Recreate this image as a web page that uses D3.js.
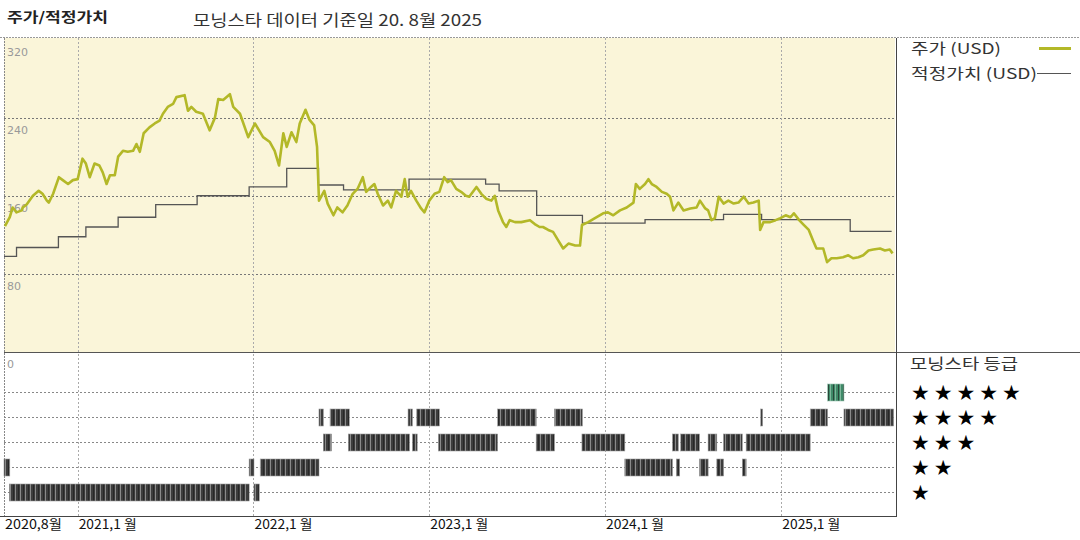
<!DOCTYPE html>
<html><head><meta charset="utf-8">
<script src="https://cdn.jsdelivr.net/npm/d3@7"></script>
<style>
html,body{margin:0;padding:0;background:#fff;}
svg{display:block;font-family:"Noto Sans CJK KR","DejaVu Sans",sans-serif;}
</style></head>
<body>
<svg id="chart" width="1080" height="540"></svg>
<script>
// ---------- DATA ----------
const titleLeft = "주가/적정가치";
const titleRight = "모닝스타 데이터 기준일 20. 8월 2025";
const legendPrice = "주가 (USD)";
const legendFair = "적정가치 (USD)";
const legendRating = "모닝스타 등급";
const yTicks = [0, 80, 160, 240, 320];
const xTickDates = ["2020-08-01","2021-01-01","2022-01-01","2023-01-01","2024-01-01","2025-01-01"];
const xTickLabels = ["2020,8월","2021,1 월","2022,1 월","2023,1 월","2024,1 월","2025,1 월"];

const priceDates = ["2020-08-03","2020-08-13","2020-08-19","2020-08-27","2020-09-07","2020-09-09","2020-09-17","2020-09-30","2020-10-12","2020-10-20","2020-10-29","2020-11-02","2020-11-11","2020-11-23","2020-12-01","2020-12-12","2020-12-22","2021-01-01","2021-01-11","2021-01-18","2021-01-26","2021-02-05","2021-02-15","2021-02-22","2021-03-02","2021-03-09","2021-03-19","2021-03-26","2021-04-05","2021-04-15","2021-04-26","2021-05-03","2021-05-10","2021-05-18","2021-05-30","2021-06-10","2021-06-20","2021-06-27","2021-07-07","2021-07-18","2021-07-25","2021-08-11","2021-08-18","2021-08-25","2021-09-04","2021-09-18","2021-10-02","2021-10-13","2021-10-20","2021-10-30","2021-11-13","2021-11-20","2021-12-04","2021-12-21","2022-01-04","2022-01-21","2022-02-04","2022-02-14","2022-02-23","2022-03-04","2022-03-11","2022-03-21","2022-03-31","2022-04-07","2022-04-19","2022-04-27","2022-05-07","2022-05-13","2022-05-17","2022-05-28","2022-06-04","2022-06-16","2022-06-24","2022-07-05","2022-07-15","2022-07-26","2022-08-05","2022-08-16","2022-08-23","2022-09-02","2022-09-09","2022-09-16","2022-09-27","2022-10-07","2022-10-14","2022-10-24","2022-11-04","2022-11-11","2022-11-17","2022-11-24","2022-12-05","2022-12-15","2022-12-22","2023-01-01","2023-01-12","2023-01-22","2023-02-01","2023-02-08","2023-02-15","2023-02-26","2023-03-08","2023-03-18","2023-03-25","2023-04-09","2023-04-19","2023-04-29","2023-05-10","2023-05-17","2023-05-24","2023-06-03","2023-06-10","2023-06-17","2023-06-28","2023-07-11","2023-07-29","2023-08-08","2023-08-18","2023-08-25","2023-09-05","2023-09-15","2023-09-26","2023-10-06","2023-10-17","2023-10-31","2023-11-10","2023-11-14","2023-11-27","2023-12-11","2023-12-28","2024-01-07","2024-01-18","2024-02-01","2024-02-15","2024-02-29","2024-03-05","2024-03-13","2024-03-24","2024-03-31","2024-04-07","2024-04-17","2024-04-28","2024-05-08","2024-05-15","2024-05-22","2024-06-01","2024-06-12","2024-06-26","2024-07-09","2024-07-16","2024-07-27","2024-08-02","2024-08-09","2024-08-16","2024-08-24","2024-09-03","2024-09-13","2024-09-24","2024-10-04","2024-10-15","2024-10-25","2024-11-04","2024-11-15","2024-11-18","2024-11-25","2024-12-09","2024-12-20","2024-12-30","2025-01-10","2025-01-20","2025-01-27","2025-02-07","2025-02-17","2025-02-27","2025-03-08","2025-03-15","2025-03-29","2025-04-06","2025-04-15","2025-04-26","2025-05-09","2025-05-20","2025-05-30","2025-06-10","2025-06-20","2025-07-01","2025-07-11","2025-07-25","2025-08-04","2025-08-14","2025-08-20"];
const priceValues = [129,138,148,143,145,148,151,160,165,162,155,153,162,179,176,172,176,177,198,193,179,193,191,184,172,181,181,200,206,205,206,213,205,224,230,234,237,244,251,254,261,263,247,251,246,244,227,240,259,258,264,251,244,220,234,220,215,206,191,224,210,225,215,234,248,238,232,210,155,165,152,140,148,143,150,162,167,179,164,169,172,162,150,155,148,165,159,177,159,165,155,147,143,155,162,164,179,174,176,167,164,160,159,169,162,157,155,160,145,133,128,135,133,133,135,131,128,128,125,123,114,106,111,109,109,130,133,137,142,143,140,145,148,153,172,167,172,177,172,169,164,162,159,145,153,145,147,148,155,147,145,135,137,159,152,155,152,153,159,152,153,155,125,133,133,135,137,140,138,142,135,130,125,114,106,106,92,96,96,97,99,96,97,99,104,105,106,104,105,101];

const fairDates = ["2020-08-01","2020-08-27","2020-11-22","2021-01-18","2021-03-26","2021-06-12","2021-09-06","2021-12-23","2022-03-11","2022-05-16","2022-07-07","2022-11-20","2023-04-28","2023-05-26","2023-08-12","2023-11-15","2024-03-24","2024-09-03","2024-11-21","2025-05-24","2025-08-18"];
const fairValues = [98,107,118,128,138,151,160,169,188,171,166,177,172,165,140,132,135.5,141,135.5,123.5,123.5];

// rating periods: [start, end]
const rating1 = [["2020-08-12","2021-12-23"],["2022-01-02","2022-01-13"]];
const rating2 = [["2020-08-01","2020-08-13"],["2021-12-23","2022-01-02"],["2022-01-15","2022-05-17"],["2024-02-11","2024-05-20"],["2024-05-28","2024-06-04"],["2024-07-15","2024-08-02"],["2024-08-20","2024-09-03"],["2024-10-12","2024-10-20"]];
const rating3 = [["2022-05-26","2022-06-12"],["2022-07-17","2022-11-21"],["2022-11-27","2022-12-07"],["2023-01-20","2023-05-23"],["2023-08-11","2023-09-18"],["2023-11-14","2024-02-11"],["2024-05-20","2024-06-01"],["2024-06-06","2024-07-15"],["2024-08-02","2024-08-20"],["2024-09-03","2024-10-12"],["2024-10-20","2025-03-02"]];
const rating4 = [["2022-05-17","2022-05-26"],["2022-06-09","2022-07-19"],["2022-11-18","2022-11-27"],["2022-12-06","2023-01-22"],["2023-05-23","2023-08-11"],["2023-09-18","2023-11-15"],["2024-11-19","2024-11-23"],["2025-03-02","2025-04-07"],["2025-05-11","2025-08-22"]];
const rating5 = [["2025-04-07","2025-05-11"]];

// ---------- DRAW ----------
const parse = d3.timeParse("%Y-%m-%d");
const svg = d3.select("#chart");
const L = 4, R = 896, PT = 38, PB = 352, AB = 516;

const x = d3.scaleTime().domain([parse("2020-08-01"), parse("2025-08-25")]).range([L, 895]);
const y = d3.scaleLinear().domain([0, 320]).range([PB, PT + 1.5]);
const ry = d3.scaleLinear().domain([1, 5]).range([492, 392]);

// pattern for rating bars
const defs = svg.append("defs");
function stripe(id, base, line) {
  const p = defs.append("pattern").attr("id", id).attr("patternUnits", "userSpaceOnUse")
    .attr("width", 5).attr("height", 20);
  p.append("rect").attr("width", 5).attr("height", 20).attr("fill", base);
  p.append("rect").attr("x", 0).attr("width", 1).attr("height", 20).attr("fill", line);
  p.append("rect").attr("x", 3).attr("width", 0.6).attr("height", 20).attr("fill", "#1a1a1a");
}
stripe("stDark", "#3d3d3d", "#8a8a8a");
stripe("stGreen", "#3f8a68", "#7fb79c");

function fitText(sel, w) { return sel.attr("textLength", w).attr("lengthAdjust", "spacingAndGlyphs"); }

// header
fitText(svg.append("text").attr("x", 7).attr("y", 22).attr("font-size", 13.5).attr("font-weight", "bold")
  .attr("fill", "#222").text(titleLeft), 101);
fitText(svg.append("text").attr("x", 193).attr("y", 26).attr("font-size", 16)
  .attr("fill", "#333").text(titleRight), 289);
svg.append("line").attr("x1", 0).attr("x2", 1080).attr("y1", 37.5).attr("y2", 37.5)
  .attr("stroke", "#999").attr("stroke-dasharray", "2,1");

// price panel background
svg.append("rect").attr("x", L).attr("y", PT).attr("width", 891).attr("height", PB - PT)
  .attr("fill", "#faf5d9");

const grid = svg.append("g").attr("stroke", "#777").attr("stroke-width", 1)
  .attr("stroke-dasharray", "2,2").attr("fill", "none");
// horizontal price gridlines
grid.selectAll("line.h").data(yTicks.filter(v => v > 0 && v < 320)).join("line")
  .attr("x1", L).attr("x2", 895).attr("y1", d => Math.round(y(d)) + 0.5).attr("y2", d => Math.round(y(d)) + 0.5);
// rating gridlines
grid.selectAll("line.r").data([1,2,3,4,5]).join("line").attr("class","r")
  .attr("x1", L).attr("x2", 895).attr("y1", d => Math.round(ry(d)) + 0.5).attr("y2", d => Math.round(ry(d)) + 0.5)
  .attr("stroke", "#888");
// vertical gridlines
grid.selectAll("line.v").data(xTickDates.slice(1)).join("line").attr("class","v")
  .attr("x1", d => Math.round(x(parse(d))) + 0.5).attr("x2", d => Math.round(x(parse(d))) + 0.5)
  .attr("y1", PT).attr("y2", AB).attr("stroke", "#aaa");
// left border
svg.append("line").attr("x1", L + 0.5).attr("x2", L + 0.5).attr("y1", PT).attr("y2", AB)
  .attr("stroke", "#888").attr("stroke-dasharray", "2,1");

// y tick labels
svg.append("g").selectAll("text").data(yTicks).join("text")
  .attr("x", 7).attr("y", d => y(d) + 16).attr("font-size", 11).attr("fill", "#999")
  .attr("font-family", "DejaVu Sans, sans-serif").text(d => d);

// fair value step line
const fair = fairDates.map((d, i) => ({ t: parse(d), v: fairValues[i] }));
svg.append("path").datum(fair)
  .attr("d", d3.line().x(d => x(d.t)).y(d => y(d.v)).curve(d3.curveStepAfter))
  .attr("fill", "none").attr("stroke", "#555").attr("stroke-width", 1.3);

// price line
const price = priceDates.map((d, i) => ({ t: parse(d), v: priceValues[i] }));
svg.append("path").datum(price)
  .attr("d", d3.line().x(d => x(d.t)).y(d => y(d.v)))
  .attr("fill", "none").attr("stroke", "#b3b828").attr("stroke-width", 2.6)
  .attr("stroke-linejoin", "round");

// divider between panels
svg.append("line").attr("x1", L).attr("x2", 1080).attr("y1", PB + 0.5).attr("y2", PB + 0.5)
  .attr("stroke", "#555").attr("stroke-width", 1);

// rating bars
const ratings = [[1, rating1], [2, rating2], [3, rating3], [4, rating4], [5, rating5]];
ratings.forEach(([lvl, segs]) => {
  svg.append("g").selectAll("rect").data(segs).join("rect")
    .attr("x", d => x(parse(d[0])))
    .attr("width", d => Math.max(2, x(parse(d[1])) - x(parse(d[0]))))
    .attr("y", ry(lvl) - 8).attr("height", 17)
    .attr("fill", lvl === 5 ? "url(#stGreen)" : "url(#stDark)")
    .attr("stroke", lvl === 5 ? "#9cc7b3" : "#9a9a9a").attr("stroke-width", 0.6);
});

// right border and bottom axis line
svg.append("line").attr("x1", R + 0.5).attr("x2", R + 0.5).attr("y1", PT).attr("y2", AB)
  .attr("stroke", "#444");
svg.append("line").attr("x1", 0).attr("x2", R + 1).attr("y1", AB + 0.5).attr("y2", AB + 0.5)
  .attr("stroke", "#444");

// x labels
svg.append("g").selectAll("text").data(xTickDates).join("text")
  .attr("x", (d, i) => i === 0 ? 5 : x(parse(d)) + 1).attr("y", 529)
  .attr("font-size", 13).attr("fill", "#111")
  .attr("textLength", (d, i) => i === 0 ? 57 : 58).attr("lengthAdjust", "spacingAndGlyphs")
  .text((d, i) => xTickLabels[i]);

// legend
fitText(svg.append("text").attr("x", 911).attr("y", 54).attr("font-size", 15).attr("fill", "#333").text(legendPrice), 90);
svg.append("line").attr("x1", 1039).attr("x2", 1071).attr("y1", 48.5).attr("y2", 48.5)
  .attr("stroke", "#b3b828").attr("stroke-width", 3);
fitText(svg.append("text").attr("x", 911).attr("y", 79).attr("font-size", 15).attr("fill", "#333").text(legendFair), 126);
svg.append("line").attr("x1", 1037).attr("x2", 1071).attr("y1", 73.5).attr("y2", 73.5)
  .attr("stroke", "#555").attr("stroke-width", 1.2);

fitText(svg.append("text").attr("x", 910).attr("y", 369).attr("font-size", 15).attr("fill", "#333").text(legendRating), 108);
svg.append("g").selectAll("text").data([5,4,3,2,1]).join("text")
  .attr("x", 911).attr("y", d => ry(d) + 8).attr("font-size", 21).attr("fill", "#000")
  .attr("font-family", "DejaVu Sans, sans-serif").attr("letter-spacing", "3.9")
  .text(d => "★".repeat(d));
</script>
</body></html>
